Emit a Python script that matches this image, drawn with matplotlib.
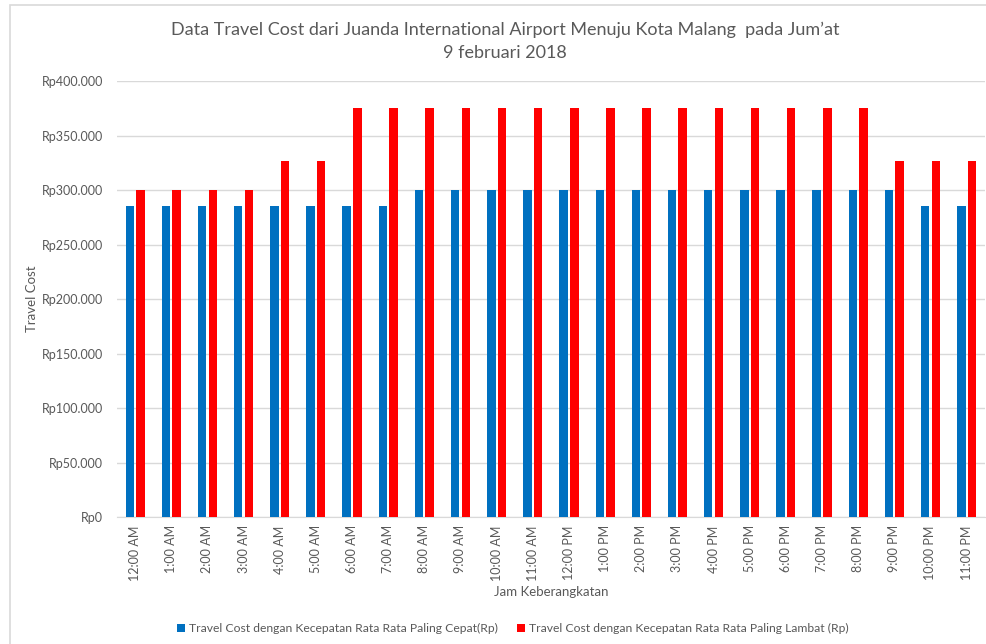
import matplotlib
matplotlib.use("Agg")
import matplotlib.pyplot as plt
import numpy as np
from matplotlib.patches import Rectangle
from matplotlib.ticker import FuncFormatter

hours = ["12:00 AM", "1:00 AM", "2:00 AM", "3:00 AM", "4:00 AM", "5:00 AM",
         "6:00 AM", "7:00 AM", "8:00 AM", "9:00 AM", "10:00 AM", "11:00 AM",
         "12:00 PM", "1:00 PM", "2:00 PM", "3:00 PM", "4:00 PM", "5:00 PM",
         "6:00 PM", "7:00 PM", "8:00 PM", "9:00 PM", "10:00 PM", "11:00 PM"]
cepat = [285000, 285000, 285000, 285000, 285000, 285000, 285000, 285000,
         300000, 300000, 300000, 300000, 300000, 300000, 300000, 300000,
         300000, 300000, 300000, 300000, 300000, 300000, 285000, 285000]
lambat = [300000, 300000, 300000, 300000, 327000, 327000, 375000, 375000,
          375000, 375000, 375000, 375000, 375000, 375000, 375000, 375000,
          375000, 375000, 375000, 375000, 375000, 327000, 327000, 327000]
label_cepat = "Travel Cost dengan Kecepatan Rata Rata Paling Cepat(Rp)"
label_lambat = "Travel Cost dengan Kecepatan Rata Rata Paling Lambat (Rp)"
title = "Data Travel Cost dari Juanda International Airport Menuju Kota Malang  pada Jum\u2019at\n9 februari 2018"

plt.rcParams['font.family'] = ['Lato', 'DejaVu Sans']
gray = "#595959"

fig = plt.figure(figsize=(9.86, 6.44), dpi=100)
ax = fig.add_axes([0.1187, 0.1972, 0.880, 0.677])

x = np.arange(len(hours))
w = 0.235
ax.bar(x - w / 2 - 0.03, cepat, width=w, color="#0070C0", label=label_cepat, zorder=3)
ax.bar(x + w / 2 + 0.03, lambat, width=w, color="#FF0000", label=label_lambat, zorder=3)

ax.set_xlim(-0.5, len(hours) - 0.5)
ax.set_ylim(0, 400000)
ax.set_yticks(np.arange(0, 400001, 50000))
ax.yaxis.set_major_formatter(FuncFormatter(lambda v, p: "Rp" + f"{int(v):,}".replace(",", ".")))
ax.set_xticks(x)
ax.set_xticklabels(hours, rotation=90, fontsize=9, color=gray)
ax.tick_params(axis='y', labelsize=9, labelcolor=gray, length=0, pad=10)
ax.tick_params(axis='x', length=0, pad=6)
ax.grid(axis='y', color="#D9D9D9", linewidth=1, zorder=0)
for s in ["top", "right", "left"]:
    ax.spines[s].set_visible(False)
ax.spines["bottom"].set_color("#D9D9D9")

ax.set_ylabel("Travel Cost", fontsize=9.5, color=gray, labelpad=3)
ax.set_xlabel("Jam Keberangkatan", fontsize=9.5, color=gray, labelpad=4)

fig.text(0.512, 0.936, title, ha="center", va="center", fontsize=13,
         color=gray, linespacing=1.5)

fig.legend(loc="center", bbox_to_anchor=(0.52, 0.024), ncol=2, frameon=False,
           fontsize=8.7, labelcolor=gray, handlelength=0.7, handleheight=0.7,
           handletextpad=0.3, columnspacing=1.6)

fig.patches.append(Rectangle((10 / 986, -0.1), 1.2, 1 - 5 / 644 + 0.1,
                             transform=fig.transFigure, fill=False,
                             edgecolor="#D9D9D9", linewidth=1.2))

fig.savefig("out.png", dpi=100)
